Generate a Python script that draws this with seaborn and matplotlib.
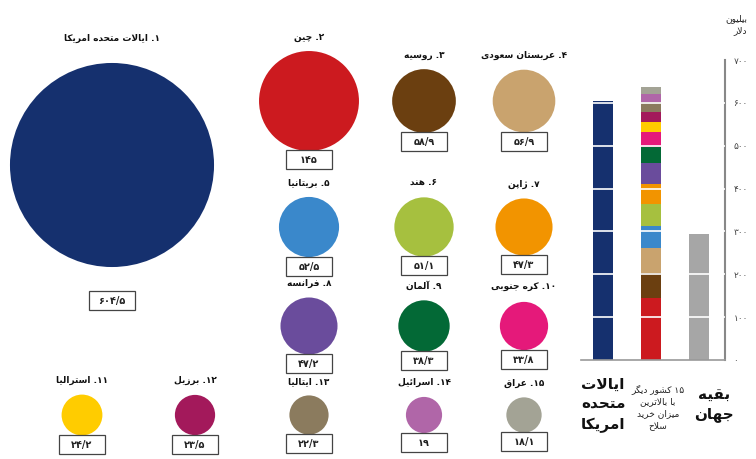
import re
import numpy as np
import pandas as pd
import matplotlib
matplotlib.use("Agg")
import matplotlib.pyplot as plt
import seaborn as sns
from matplotlib.patches import Rectangle

# ---------------- data ----------------
countries = ["ایالات متحده امریکا", "چین", "روسیه", "عربستان سعودی", "بریتانیا",
             "هند", "ژاپن", "فرانسه", "آلمان", "کره جنوبی",
             "استرالیا", "برزیل", "ایتالیا", "اسرائیل", "عراق"]
spending = [604.5, 145, 58.9, 56.9, 52.5, 51.1, 47.3, 47.2, 38.3, 33.8,
            24.2, 23.5, 22.3, 19, 18.1]
colors = ["#15306E", "#CC1A1F", "#6B3F10", "#C9A36E", "#3A88CB",
          "#A6C03F", "#F29400", "#6A4C9C", "#036936", "#E5197A",
          "#FFCC00", "#A3195B", "#8B7B5E", "#B066A8", "#A3A395"]
rest_of_world = 293
bar_labels = ["ایالات\nمتحده\nامریکا", "۱۵ کشور دیگر\nبا بالاترین\nمیزان خرید\nسلاح", "بقیه\nجهان"]
y_ticks = [0, 100, 200, 300, 400, 500, 600, 700]
axis_title = "بیلیون\nدلار"

# ---------------- Persian text helpers ----------------
def _dual(b):
    return (b, b + 1, b + 2, b + 3)

def _right(b):
    return (b, b + 1)

FORMS = {
    'ء': (0xFE80,), 'آ': _right(0xFE81), 'أ': _right(0xFE83), 'ؤ': _right(0xFE85),
    'إ': _right(0xFE87), 'ئ': _dual(0xFE89), 'ا': _right(0xFE8D), 'ب': _dual(0xFE8F),
    'ة': _right(0xFE93), 'ت': _dual(0xFE95), 'ث': _dual(0xFE99), 'ج': _dual(0xFE9D),
    'ح': _dual(0xFEA1), 'خ': _dual(0xFEA5), 'د': _right(0xFEA9), 'ذ': _right(0xFEAB),
    'ر': _right(0xFEAD), 'ز': _right(0xFEAF), 'س': _dual(0xFEB1), 'ش': _dual(0xFEB5),
    'ص': _dual(0xFEB9), 'ض': _dual(0xFEBD), 'ط': _dual(0xFEC1), 'ظ': _dual(0xFEC5),
    'ع': _dual(0xFEC9), 'غ': _dual(0xFECD), 'ف': _dual(0xFED1), 'ق': _dual(0xFED5),
    'ك': _dual(0xFED9), 'ل': _dual(0xFEDD), 'م': _dual(0xFEE1), 'ن': _dual(0xFEE5),
    'ه': _dual(0xFEE9), 'و': _right(0xFEED), 'ى': _right(0xFEEF), 'ي': _dual(0xFEF1),
    'پ': _dual(0xFB56), 'چ': _dual(0xFB7A), 'ژ': _right(0xFB8A), 'ک': _dual(0xFB8E),
    'گ': _dual(0xFB92), 'ی': _dual(0xFBFC),
}
LAMALEF = {'ا': (0xFEFB, 0xFEFC), 'آ': (0xFEF5, 0xFEF6),
           'أ': (0xFEF7, 0xFEF8), 'إ': (0xFEF9, 0xFEFA)}


def _joins_next(c):
    return c in FORMS and len(FORMS[c]) == 4


def _joins_prev(c):
    return c in FORMS and len(FORMS[c]) >= 2


def shape(text):
    out, i, n = [], 0, len(text)
    while i < n:
        c = text[i]
        if c not in FORMS:
            out.append(c)
            i += 1
            continue
        pc = i > 0 and _joins_next(text[i - 1])
        if c == 'ل' and i + 1 < n and text[i + 1] in LAMALEF:
            lig = LAMALEF[text[i + 1]]
            out.append(chr(lig[1] if pc else lig[0]))
            i += 2
            continue
        nc = _joins_next(c) and i + 1 < n and _joins_prev(text[i + 1])
        f = FORMS[c]
        if pc and nc:
            g = f[3]
        elif pc and len(f) > 1:
            g = f[1]
        elif nc:
            g = f[2]
        else:
            g = f[0]
        out.append(chr(g))
        i += 1
    return ''.join(out)


DIG = r'[۰-۹0-9/]+'


def fa(text):
    lines = []
    for line in text.split('\n'):
        s = shape(line)
        toks = re.findall(DIG + r'|[^۰-۹0-9/]+', s)
        vis = ''.join(t if re.fullmatch(DIG, t) else t[::-1] for t in reversed(toks))
        lines.append(vis)
    return '\n'.join(lines)


FA_DIGITS = str.maketrans('0123456789.', '۰۱۲۳۴۵۶۷۸۹/')


def fa_num(v):
    return f"{v:g}".translate(FA_DIGITS)


# ---------------- figure ----------------
sns.set_style("white")
plt.rcParams['font.family'] = ['DejaVu Sans']

W, H = 756, 459
fig = plt.figure(figsize=(W / 100, H / 100), dpi=100)
ax = fig.add_axes([0, 0, 1, 1])

# layout of bubbles (slots)
grid_cols = [309, 424, 524]
grid_rows = [101, 227, 326]
bottom_cols = [82, 195, 309, 424, 524]
bottom_row = 415
xs = [112] + [grid_cols[j] for i in range(3) for j in range(3)] + bottom_cols
ys = [165] + [grid_rows[i] for i in range(3) for j in range(3)] + [bottom_row] * 5

DIAM_PX = 8.3  # bubble diameter in px per sqrt(value)
s_per_value = (DIAM_PX * 72 / 100) ** 2
vmax = max(spending)

df = pd.DataFrame({"country": countries, "value": spending, "x": xs, "y": ys})
sns.scatterplot(data=df, x="x", y="y", hue="country", palette=colors,
                size="value", sizes=(0, s_per_value * vmax), size_norm=(0, vmax),
                linewidth=0, legend=False, ax=ax)
ax.set_xlim(0, W)
ax.set_ylim(H, 0)
ax.axis('off')

for k, (name, v, x, y) in enumerate(zip(countries, spending, xs, ys)):
    r = DIAM_PX * np.sqrt(v) / 2
    if k == 0:
        ly, by = y - r - 25, y + r + 33
    else:
        ly, by = y - r - 14, y + r + 9
    ax.text(x, ly, fa(f"{fa_num(k + 1)}. {name}"), ha='center', va='center',
            fontsize=6.5, fontweight='bold', color='#111')
    bw, bh = 46, 19
    ax.add_patch(Rectangle((x - bw / 2, by - bh / 2), bw, bh, facecolor='white',
                           edgecolor='#444', lw=0.9, zorder=4))
    ax.text(x, by + 0.5, fa_num(v), ha='center', va='center', fontsize=7,
            fontweight='bold', color='#222', zorder=5)

# ---------------- bar chart ----------------
left, right_, bottom, top = 581, 725, 360, 60
bx = fig.add_axes([left / W, 1 - bottom / H, (right_ - left) / W, (bottom - top) / H])
bx.set_facecolor('none')
px_per_unit = 48
x0 = -(603 - left) / px_per_unit
bx.set_xlim(x0, x0 + (right_ - left) / px_per_unit)
bx.set_ylim(0, 700)
bw = 20 / px_per_unit

bx.bar(0, spending[0], width=bw, color=colors[0], edgecolor='none', lw=0, zorder=2)
bottom_acc = 0
for v, c in zip(spending[1:], colors[1:]):
    bx.bar(1, v, width=bw, bottom=bottom_acc, color=c, edgecolor='none', lw=0, zorder=2)
    bottom_acc += v
bx.bar(2, rest_of_world, width=bw, color='#A6A6A6', edgecolor='none', lw=0, zorder=2)

for t in y_ticks[1:-1]:
    bx.axhline(t, color='white', lw=1.2, zorder=3)

for sp in ['top', 'left']:
    bx.spines[sp].set_visible(False)
bx.spines['right'].set_color('#888')
bx.spines['right'].set_linewidth(1.5)
bx.spines['bottom'].set_color('#999')
bx.spines['bottom'].set_linewidth(1.2)
bx.yaxis.tick_right()
bx.set_yticks(y_ticks)
bx.set_yticklabels([fa_num(t) for t in y_ticks], fontsize=6.5, color='#444')
bx.tick_params(axis='y', length=0, pad=6)
bx.set_xticks([])

ax.text(747, 25, fa(axis_title), ha='right', va='center', fontsize=6.5,
        color='#222', linespacing=1.4, multialignment='right')

ax.text(603, 405, fa(bar_labels[0]), ha='center', va='center', fontsize=11,
        fontweight='bold', color='#111', linespacing=1.4)
ax.text(658, 407, fa(bar_labels[1]), ha='center', va='center', fontsize=6.5,
        color='#222', linespacing=1.45)
ax.text(714, 405, fa(bar_labels[2]), ha='center', va='center', fontsize=11,
        fontweight='bold', color='#111', linespacing=1.3)

fig.savefig("out.png", dpi=100)
